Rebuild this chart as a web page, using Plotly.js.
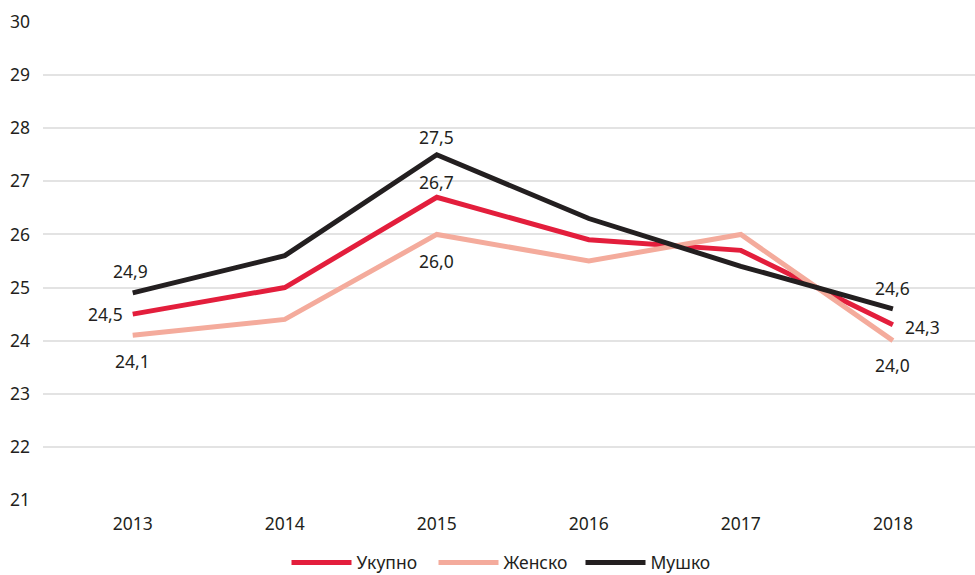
<!DOCTYPE html>
<html>
<head>
<meta charset="utf-8">
<script src="https://cdn.plot.ly/plotly-3.0.1.min.js"></script>
<style>html,body{margin:0;padding:0;background:#fff;}#chart{width:975px;height:575px;}</style>
</head>
<body>
<div id="chart"></div>
<script>
const years = ['2013', '2014', '2015', '2016', '2017', '2018'];
const seriesNames = ['Укупно', 'Женско', 'Мушко'];
const ukupno = [24.5, 25.0, 26.7, 25.9, 25.7, 24.3];
const zensko = [24.1, 24.4, 26.0, 25.5, 26.0, 24.0];
const musko = [24.9, 25.6, 27.5, 26.3, 25.4, 24.6];
const labelIdx = [0, 2, 5];
const yTicks = [21, 22, 23, 24, 25, 26, 27, 28, 29, 30];

const colors = ['#e31e3c', '#f4ab9c', '#231f20'];
const values = [ukupno, zensko, musko];
// label placement per series, per labelled point
const placements = [
  [{xa:'right', xs:-8, ys:0}, {xa:'center', xs:0, ys:15}, {xa:'left', xs:10, ys:-2}],
  [{xa:'center', xs:0, ys:-26}, {xa:'center', xs:0, ys:-27}, {xa:'center', xs:0, ys:-24}],
  [{xa:'center', xs:-2, ys:22}, {xa:'center', xs:0, ys:18}, {xa:'center', xs:0, ys:21}]
];

const fontFam = '"Noto Sans", "Open Sans", sans-serif';
const traces = values.map((v, i) => ({
  x: years, y: v, name: seriesNames[i], type: 'scatter', mode: 'lines',
  line: {color: colors[i], width: 5}, hoverinfo: 'skip'
}));

const annotations = [];
values.forEach((v, s) => {
  labelIdx.forEach((idx, k) => {
    const p = placements[s][k];
    annotations.push({
      x: idx, y: v[idx], xref: 'x', yref: 'y',
      text: v[idx].toFixed(1).replace('.', ','),
      showarrow: false, xanchor: p.xa, yanchor: 'middle',
      xshift: p.xs, yshift: p.ys,
      font: {family: fontFam, size: 17.5, color: '#231f20'}
    });
  });
});

const layout = {
  width: 975, height: 575,
  margin: {l: 43, r: 0, t: 22, b: 75},
  paper_bgcolor: '#fff', plot_bgcolor: '#fff',
  showlegend: true,
  legend: {
    orientation: 'h', xref: 'container', yref: 'container',
    x: 0.52, xanchor: 'center', y: 0.053, yanchor: 'top',
    font: {family: fontFam, size: 17.5, color: '#231f20'},
    itemwidth: 60, entrywidth: 72
  },
  xaxis: {
    type: 'category', range: [-0.59, 5.54],
    showgrid: false, zeroline: false, showline: false, ticks: '',
    tickfont: {family: fontFam, size: 17.5, color: '#231f20'},
    ticklabelstandoff: 11, fixedrange: true
  },
  yaxis: {
    range: [21, 30], tickvals: yTicks,
    showgrid: true, gridcolor: '#e3e3e3', gridwidth: 1.5,
    zeroline: false, showline: false, ticks: '',
    tickfont: {family: fontFam, size: 17.5, color: '#231f20'},
    ticklabelstandoff: 12, fixedrange: true
  },
  annotations: annotations
};

Plotly.newPlot('chart', traces, layout, {displayModeBar: false});
</script>
</body>
</html>
